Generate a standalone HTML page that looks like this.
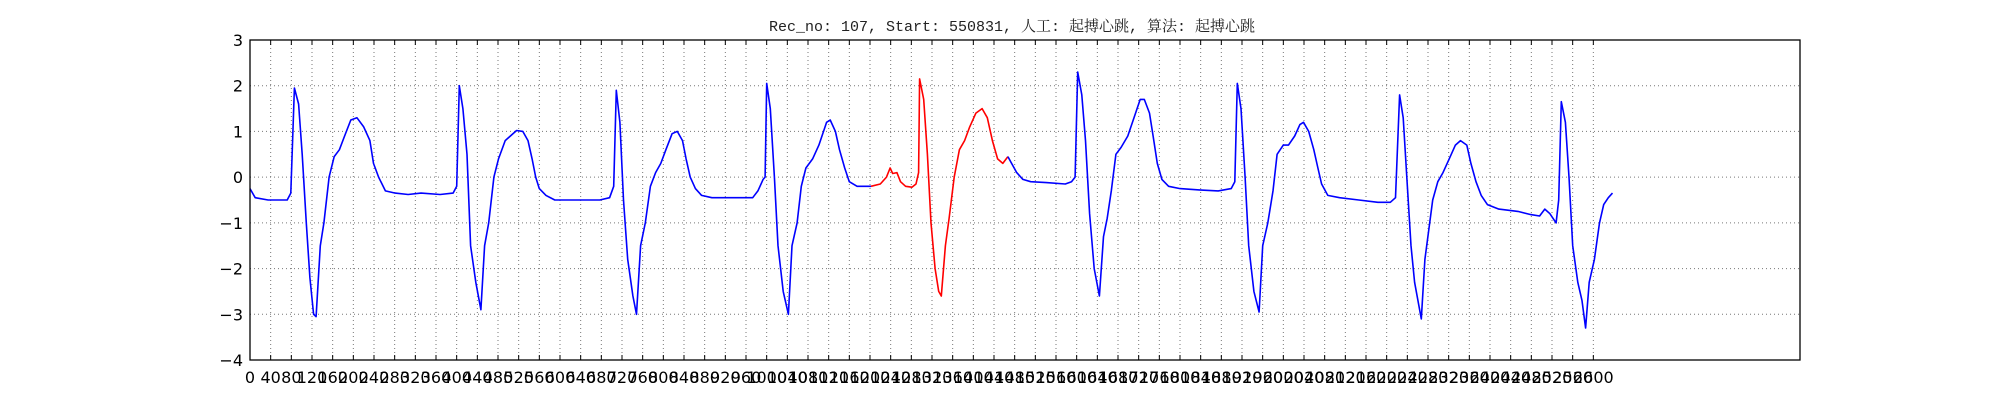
<!DOCTYPE html>
<html><head><meta charset="utf-8"><style>
html,body{margin:0;padding:0;background:#fff;}
svg{display:block;}
</style></head><body>
<svg id="chart" width="2000" height="400" xmlns="http://www.w3.org/2000/svg">
<text x="1012" y="31" text-anchor="middle" font-family="'Liberation Mono','Noto Serif CJK SC',monospace" font-size="15" fill="#222">Rec_no: 107, Start: 550831, 人工: 起搏心跳, 算法: 起搏心跳</text>
<g id="grid"></g>
<g id="series"></g>
<g id="axes"></g>
</svg>
<script>
const xTickStep = 40;
const xTickMax = 2600;
const yTicks = [3, 2, 1, 0, -1, -2, -3, -4];
const blueT1 = [0,10,35,72,79,86,94,101,109,116,123,128,136,143,153,163,173,183,195,207,220,232,239,249,262,281,306,331,368,393,400,405,412,420,427,437,447,454,462,472,481,494,504,516,528,538,546,553,560,573,590,627,677,696,704,709,716,723,731,741,748,756,765,775,785,795,805,817,827,837,844,852,862,874,894,923,973,983,993,997,1000,1007,1015,1022,1032,1042,1049,1059,1067,1076,1089,1101,1116,1123,1133,1141,1151,1160,1175,1202];
const blueV1 = [-0.25,-0.45,-0.5,-0.5,-0.35,1.95,1.6,0.5,-1,-2.2,-3.0,-3.05,-1.5,-1.0,0.0,0.45,0.6,0.9,1.25,1.3,1.1,0.8,0.3,0.0,-0.3,-0.35,-0.38,-0.35,-0.38,-0.35,-0.2,2.0,1.5,0.5,-1.5,-2.3,-2.9,-1.5,-1.0,0.0,0.4,0.8,0.9,1.02,1.0,0.8,0.4,0.0,-0.25,-0.4,-0.5,-0.5,-0.5,-0.45,-0.2,1.9,1.2,-0.5,-1.8,-2.6,-3.0,-1.5,-1.0,-0.2,0.1,0.3,0.6,0.95,1.0,0.8,0.4,0.0,-0.25,-0.4,-0.45,-0.45,-0.45,-0.3,-0.05,0.0,2.05,1.5,0.0,-1.5,-2.5,-3.0,-1.5,-1.0,-0.2,0.2,0.4,0.7,1.2,1.25,1.0,0.6,0.2,-0.1,-0.2,-0.2];
const redT = [1202,1220,1232,1239,1244,1252,1259,1269,1281,1289,1294,1296,1304,1311,1318,1326,1333,1338,1346,1353,1363,1373,1383,1393,1405,1417,1427,1437,1447,1457,1467];
const redV = [-0.2,-0.15,0.0,0.2,0.08,0.1,-0.1,-0.2,-0.22,-0.15,0.1,2.15,1.7,0.5,-1.0,-2.0,-2.5,-2.6,-1.5,-0.9,0.0,0.6,0.8,1.1,1.4,1.5,1.3,0.8,0.4,0.3,0.45];
const blueT2 = [1467,1474,1484,1496,1511,1541,1578,1590,1597,1602,1610,1617,1625,1634,1644,1652,1659,1667,1676,1686,1699,1711,1723,1731,1741,1748,1756,1765,1778,1800,1837,1874,1899,1906,1911,1918,1926,1933,1943,1953,1960,1970,1980,1988,2000,2010,2022,2032,2039,2049,2059,2067,2074,2086,2109,2146,2183,2207,2217,2225,2232,2239,2247,2254,2267,2274,2281,2289,2299,2309,2321,2333,2343,2355,2363,2373,2383,2395,2417,2454,2479,2496,2506,2516,2528,2533,2538,2546,2553,2560,2570,2578,2585,2592,2602,2612,2620,2629,2637];
const blueV2 = [0.45,0.3,0.1,-0.05,-0.1,-0.12,-0.15,-0.1,0.0,2.3,1.8,0.8,-0.8,-2.0,-2.6,-1.3,-0.9,-0.3,0.5,0.65,0.9,1.3,1.7,1.7,1.4,0.9,0.3,-0.05,-0.2,-0.25,-0.28,-0.3,-0.25,-0.1,2.05,1.5,0.0,-1.5,-2.5,-2.95,-1.5,-1.0,-0.3,0.5,0.7,0.7,0.9,1.15,1.2,1.0,0.6,0.2,-0.15,-0.4,-0.45,-0.5,-0.55,-0.55,-0.45,1.8,1.3,0.0,-1.5,-2.3,-3.1,-1.8,-1.2,-0.5,-0.1,0.1,0.4,0.7,0.8,0.7,0.3,-0.1,-0.4,-0.6,-0.7,-0.75,-0.82,-0.85,-0.7,-0.8,-1.0,-0.5,1.65,1.2,0.0,-1.5,-2.3,-2.7,-3.3,-2.3,-1.8,-1.0,-0.6,-0.45,-0.35];

const L=250,R=1800,T=40,B=360,XMAX=3000,YMIN=-4,YMAX=3;
const sx=v=>L+(v/XMAX)*(R-L);
const sy=v=>T+(YMAX-v)/(YMAX-YMIN)*(B-T);
const NS='http://www.w3.org/2000/svg';
function mk(tag,attrs,parent){const e=document.createElementNS(NS,tag);for(const k in attrs)e.setAttribute(k,attrs[k]);parent.appendChild(e);return e;}
const grid=document.getElementById('grid'),axes=document.getElementById('axes'),series=document.getElementById('series');
for(let v=0;v<=xTickMax;v+=xTickStep){
  const x=sx(v);
  const g=mk('line',{x1:x,x2:x,y1:T,y2:B,stroke:'#777','stroke-width':1,'stroke-dasharray':'1,3'},grid);
  
  
  const t1=mk('line',{x1:x,x2:x,y1:B,y2:B-5,stroke:'#000','stroke-width':1},axes);
  
  
  const t2=mk('line',{x1:x,x2:x,y1:T,y2:T+5,stroke:'#000','stroke-width':1},axes);
  
  
  const lb=mk('text',{x:x,y:383,'text-anchor':'middle','font-family':"'DejaVu Sans','Liberation Sans',sans-serif",'font-size':16,fill:'#000'},axes);
  lb.textContent=v;
  
  
}
yTicks.forEach(v=>{
  const y=sy(v);
  const g=mk('line',{x1:L,x2:R,y1:y,y2:y,stroke:'#777','stroke-width':1,'stroke-dasharray':'1,3'},grid);
  
  
  const lb=mk('text',{x:243,y:y+6,'text-anchor':'end','font-family':"'DejaVu Sans','Liberation Sans',sans-serif",'font-size':16,fill:'#000'},axes);
  lb.textContent=(v<0?'\u2212':'')+Math.abs(v);
  
  
});
function line(ts,vs,color,name){
  const p=ts.map((t,i)=>sx(t).toFixed(1)+','+sy(vs[i]).toFixed(1)).join(' ');
  const e=mk('polyline',{points:p,fill:'none',stroke:color,'stroke-width':1.6,'stroke-linejoin':'round'},series);
  
  
}
line(blueT1,blueV1,'#0000ff','ecg-blue-segment-1');
line(redT,redV,'#ff0000','ecg-red-segment');
line(blueT2,blueV2,'#0000ff','ecg-blue-segment-2');
const fr=mk('rect',{x:L,y:T,width:R-L,height:B-T,fill:'none',stroke:'#000','stroke-width':1.3},axes);


</script>
</body></html>
